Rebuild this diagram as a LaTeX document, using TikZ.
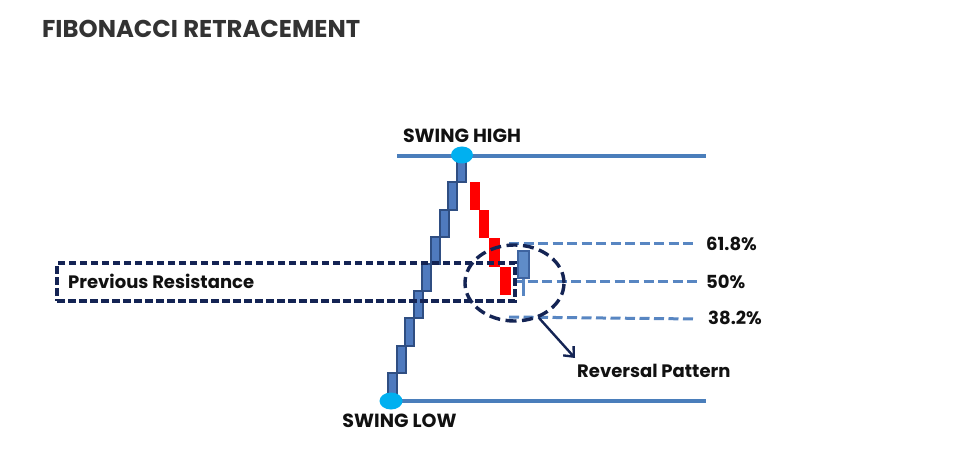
\documentclass[tikz,border=0pt]{standalone}
\usepackage{fontspec}
\setmainfont{Poppins}
\usetikzlibrary{shapes.geometric,arrows.meta}
\definecolor{candleblue}{RGB}{79,122,190}
\definecolor{candleedge}{RGB}{47,78,130}
\definecolor{smallblue}{RGB}{95,140,200}
\definecolor{smalledge}{RGB}{62,100,160}
\definecolor{lineblue}{RGB}{74,126,187}
\definecolor{fibblue}{RGB}{88,134,194}
\definecolor{navy}{RGB}{20,36,84}
\definecolor{dotcyan}{RGB}{0,176,240}
\definecolor{titlegray}{RGB}{51,51,51}
\definecolor{candlered}{RGB}{255,0,0}
\definecolor{textblack}{RGB}{17,17,17}
\begin{document}
\begin{tikzpicture}[x=1pt,y=-1pt,
  upcandle/.style={draw=candleedge, fill=candleblue, line width=2pt},
  downcandle/.style={fill=candlered},
  smallcandle/.style={draw=smalledge, fill=smallblue, line width=2pt},
  level/.style={draw=lineblue, line width=3.2pt},
  fib/.style={draw=fibblue, line width=3pt, dash pattern=on 10pt off 4.5pt},
  navydash/.style={draw=navy, line width=3.2pt, dash pattern=on 7.5pt off 3.5pt},
  ovaldash/.style={draw=navy, line width=3.4pt, dash pattern=on 11pt off 5.5pt},
  lbl/.style={font=\bfseries\fontsize{18}{20}\selectfont, text=textblack, inner sep=0pt},
  swinglbl/.style={font=\bfseries\fontsize{19}{21}\selectfont, text=textblack, inner sep=0pt},
  swingdot/.style={fill=dotcyan, draw=none, ellipse, inner sep=0pt}
]
\useasboundingbox (0,0) rectangle (975,465);
\fill[white] (0,0) rectangle (975,465);

% title
\node[font=\bfseries\fontsize{24.3}{26}\selectfont, text=titlegray, inner sep=0pt, anchor=west] (title) at (42,28.5) {FIBONACCI RETRACEMENT};

% swing levels
\coordinate (hiL) at (397,156);
\coordinate (hiR) at (706,156);
\coordinate (loL) at (392,401);
\coordinate (loR) at (706,401);
\draw[level] (hiL) -- (hiR);
\draw[level] (loL) -- (loR);

% rising candles
\foreach \i in {0,...,8}{
  \draw[upcandle] ({388+8.6*\i},{400-27.2*\i}) rectangle ({397+8.6*\i},{372.8-27.2*\i});
}

% falling candles
\fill[downcandle] (469.5,182) rectangle (479.5,210);
\fill[downcandle] (478.5,210) rectangle (488.5,238);
\fill[downcandle] (489,238) rectangle (499.5,267);
\fill[downcandle] (500,267) rectangle (511,295);

% fib levels
\node[lbl, anchor=west] (l618) at (706,244) {61.8\%};
\node[lbl, anchor=west] (l50) at (706,282) {50\%};
\node[lbl, anchor=west] (l382) at (708,318) {38.2\%};
\coordinate (f618) at (509,244);
\coordinate (f50) at (513,282);
\coordinate (f382) at (509,317);
\draw[fib] (f618) -- ([xshift=-9pt]l618.west);
\draw[fib] (f50) -- ([xshift=-9pt]l50.west);
\draw[fib] (f382) -- ([xshift=-11pt,yshift=-1pt]l382.west);

% reversal candle
\coordinate (wickT) at (523.5,278);
\coordinate (wickB) at (523.5,296);
\draw[draw=fibblue, line width=2.2pt] (wickT) -- (wickB);
\draw[smallcandle] (518,251) rectangle (529,278);

% previous resistance box
\node[navydash, minimum width=458pt, minimum height=38pt, inner sep=0pt] (prevres) at (286,282) {};
\node[lbl, anchor=west] (prevtxt) at (68,281) {Previous Resistance};

% reversal ellipse and arrow
\node[ovaldash, ellipse, minimum width=99pt, minimum height=76pt, inner sep=0pt] (rev) at (514.5,283) {};
\node[lbl, anchor=west] (revtxt) at (577,371) {Reversal Pattern};
\coordinate (arrtip) at (575,358);
\draw[navy, line width=2.4pt, -{Straight Barb[length=8pt,width=14pt]}] (rev.-55) -- (arrtip);

% swing points
\node[swingdot, minimum width=22pt, minimum height=17pt] (shigh) at (462,155) {};
\node[swingdot, minimum width=23pt, minimum height=17pt] (slow) at (391,401) {};
\node[swinglbl] (shightxt) at (462,135.5) {SWING HIGH};
\node[swinglbl] (slowtxt) at (399.5,420.5) {SWING LOW};
\end{tikzpicture}
\end{document}
